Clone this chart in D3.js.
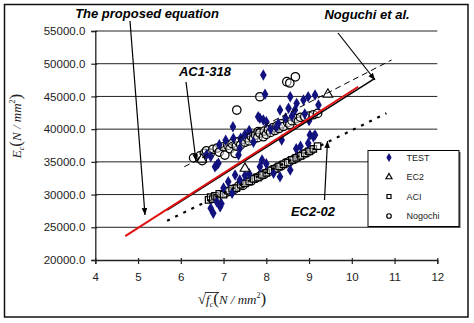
<!DOCTYPE html>
<html><head><meta charset="utf-8">
<script src="https://cdn.jsdelivr.net/npm/d3@7"></script>
<style>body{margin:0;background:#fff}svg{display:block}</style>
</head><body>
<svg id="c" width="474" height="323"></svg>
<script>
// ---- data ----
const xTicks = [4,5,6,7,8,9,10,11,12];
const yTicks = [20000,25000,30000,35000,40000,45000,50000,55000];
const testPts = [
 [6.8,34250],[6.88,34800],[6.84,34510],[6.6,36100],[6.7,35800],[6.9,37600],[7.05,38300],
 [7.22,40370],[7.23,38590],[7.38,37060],[7.4,38600],[7.5,39200],[7.6,39800],[7.7,38000],
 [7.85,41650],[7.81,41900],[7.93,41390],[8.0,41130],[8.1,40000],[8.28,40880],[8.24,40370],
 [8.32,42920],[8.45,41700],[8.52,43180],[8.56,44950],[8.6,42000],[8.67,42920],[8.71,43940],
 [8.87,44450],[8.9,42300],[8.98,44950],[9.0,41300],[9.14,45210],[9.22,43690],
 [7.93,48270],[7.97,45320],
 [6.76,27130],[6.92,28140],[6.84,28900],[6.7,27900],[6.95,28600],[7.0,31000],[7.2,30200],
 [7.11,31960],[7.27,32980],[7.38,32220],[7.35,36040],[7.5,32900],[7.6,33200],[7.85,34250],
 [7.9,35300],[8.0,34700],[8.17,33240],[8.32,32730],[8.56,33750],[8.36,38330],[8.7,37000],
 [8.8,37400],[8.98,37830],[9.1,38840],[9.02,39110],[9.14,39110]
];
const ec2Pts = [[6.49,35380],[7.5,34000],[9.44,45320]];
const aciPts = [
 [6.65,29200],[6.7,29600],[6.75,29300],[6.8,29800],[6.85,29500],[6.9,30100],[7.0,30000],
 [7.1,30600],[7.2,30900],[7.3,31000],[7.4,31500],[7.5,31700],[7.6,32000],[7.7,32400],
 [7.8,32600],[7.9,33000],[8.0,33300],[8.1,33700],[8.2,33900],[8.3,34300],[8.4,34600],
 [8.5,34900],[8.6,35300],[8.7,35600],[8.8,35900],[8.9,36300],[9.0,36600],[9.1,37000],[9.2,37400]
];
const nogPts = [
 [6.3,35600],[6.45,35900],[6.5,35200],[6.55,36300],[6.6,36700],[6.69,36300],[6.75,36900],
 [6.85,37100],[6.9,36500],[7.0,37300],[7.03,36040],[7.1,37500],[7.15,37000],[7.2,37800],
 [7.27,36300],[7.3,37400],[7.35,38100],[7.4,37600],[7.45,38400],[7.5,38000],[7.55,38700],
 [7.6,38200],[7.65,38900],[7.7,38500],[7.75,39100],[7.81,39610],[7.8,38700],[7.85,39400],
 [7.93,38840],[7.95,39700],[8.0,39200],[8.05,39900],[8.1,39500],[8.15,40200],[8.2,39800],
 [8.25,40500],[8.3,40100],[8.35,40800],[8.4,40400],[8.5,41000],[8.55,40700],[8.6,41300],
 [8.7,41600],[8.75,41200],[8.8,41800],[8.9,41900],[9.0,42000],[9.1,42200],[9.2,42400],
 [7.31,42920],[7.85,44950],[8.48,47250],[8.55,47050],[8.68,48000],
 [7.05,30300],[7.15,30500],[7.25,30800],[7.35,31300],[7.45,31400],[7.55,31900],[7.65,32100],
 [7.75,32500],[7.85,32800],[7.95,33100],[8.05,33500],[8.15,33800],[8.25,34100],[8.35,34400],
 [8.45,34800],[8.55,35100],[8.65,35400],[8.75,35800],[8.85,36100],[8.95,36400],[9.05,36800]
];
const proposedLine = [[4.7,23650],[10.15,46480]];
const noguchiLine = [[5.68,27630],[10.54,47770]];
const aciLine = [[6.08,34250],[10.93,50570]];
const ec2Line = [[5.68,25990],[10.81,42420]];
const legendItems = ["TEST","EC2","ACI","Nogochi"];

// ---- drawing ----
const svg = d3.select("#c");
const x = d3.scaleLinear().domain([4,12]).range([95.3,437.3]);
const y = d3.scaleLinear().domain([20000,55000]).range([260,31]);

svg.append("rect").attr("x",4.5).attr("y",4.5).attr("width",463.5).attr("height",312.5)
  .attr("fill","#fff").attr("stroke","#111").attr("stroke-width",1.5);

const defs = svg.append("defs");
defs.append("marker").attr("id","ah").attr("viewBox","0 0 10 10").attr("refX",10).attr("refY",5)
  .attr("markerWidth",7).attr("markerHeight",7).attr("orient","auto-start-reverse")
  .attr("markerUnits","userSpaceOnUse")
  .append("path").attr("d","M0,1L10,5L0,9Z").attr("fill","#000");

// gridlines
svg.append("g").selectAll("line").data(yTicks.filter(d=>d>20000)).join("line")
  .attr("x1",x(4)).attr("x2",x(12)).attr("y1",d=>y(d)).attr("y2",d=>y(d))
  .attr("stroke","#222").attr("stroke-width",1);

// axes
const ya = svg.append("g").attr("transform",`translate(${x(4)},0)`)
  .call(d3.axisLeft(y).tickValues(yTicks).tickFormat(d=>d.toFixed(1)).tickSize(4).tickPadding(6));
const xa = svg.append("g").attr("transform",`translate(0,${y(20000)})`)
  .call(d3.axisBottom(x).tickValues(xTicks).tickFormat(d3.format("d")).tickSize(4).tickPadding(9));
[ya,xa].forEach(a=>{
  a.select(".domain").attr("stroke","#222").attr("stroke-width",1.3);
  a.selectAll(".tick line").attr("stroke","#222").attr("stroke-width",1.2);
  a.selectAll("text").attr("font-family","Liberation Sans, Arial, sans-serif")
   .attr("font-size",11.5).attr("fill","#222");
});
xa.selectAll(".tick line").attr("y1",-2);
ya.selectAll(".tick line").attr("x2",-4).attr("x1",2);

// points
const navy = "#12127e";
const diamond = d3.symbol().type(d3.symbolDiamond).size(38);
const pts = svg.append("g");
pts.selectAll("path.n").data(nogPts).join("path").attr("class","n")
  .attr("d",d3.symbol().type(d3.symbolCircle).size(56)())
  .attr("transform",d=>`translate(${x(d[0])},${y(d[1])})`)
  .attr("fill","#fff").attr("fill-opacity",0.5).attr("stroke","#000").attr("stroke-width",1.25);
pts.selectAll("path.a").data(aciPts).join("path").attr("class","a")
  .attr("d",d3.symbol().type(d3.symbolSquare).size(42)())
  .attr("transform",d=>`translate(${x(d[0])},${y(d[1])})`)
  .attr("fill","#fff").attr("fill-opacity",0.5).attr("stroke","#000").attr("stroke-width",1.25);
pts.selectAll("path.t").data(testPts).join("path").attr("class","t")
  .attr("d",diamond()).attr("transform",d=>`translate(${x(d[0])},${y(d[1])})`)
  .attr("fill",navy);
pts.selectAll("path.e").data(ec2Pts).join("path").attr("class","e")
  .attr("d",d3.symbol().type(d3.symbolTriangle).size(40)())
  .attr("transform",d=>`translate(${x(d[0])},${y(d[1])})`)
  .attr("fill","#fff").attr("stroke","#000").attr("stroke-width",1.1);

// lines
const lg = d3.line().x(d=>x(d[0])).y(d=>y(d[1]));
svg.append("path").attr("d",lg(aciLine)).attr("fill","none").attr("stroke","#000")
  .attr("stroke-width",1).attr("stroke-dasharray","6,4");
svg.append("path").attr("d",lg(ec2Line)).attr("fill","none").attr("stroke","#000")
  .attr("stroke-width",2.2).attr("stroke-dasharray","3,6");
svg.append("path").attr("d",lg(noguchiLine)).attr("fill","none").attr("stroke","#000")
  .attr("stroke-width",1.5);
svg.append("path").attr("d",lg(proposedLine)).attr("fill","none").attr("stroke","#e01010")
  .attr("stroke-width",2);

// annotations
const ann = [
 {t:"The proposed equation", tx:147, ty:18, a:[130,21,145,215]},
 {t:"AC1-318", tx:205, ty:76, a:[186,82,196,161]},
 {t:"Noguchi et al.", tx:367, ty:19, a:[338,33,375,80]},
 {t:"EC2-02", tx:313, ty:216, a:[324.5,200,327.5,141]}
];
ann.forEach(d=>{
  svg.append("text").attr("x",d.tx).attr("y",d.ty).attr("text-anchor","middle")
    .attr("font-family","Liberation Sans, Arial, sans-serif").attr("font-weight","bold")
    .attr("font-style","italic").attr("font-size",13).attr("fill","#000").text(d.t);
  svg.append("line").attr("x1",d.a[0]).attr("y1",d.a[1]).attr("x2",d.a[2]).attr("y2",d.a[3])
    .attr("stroke","#000").attr("stroke-width",1.2).attr("marker-end","url(#ah)");
});

// legend
const L = svg.append("g").attr("transform","translate(368,150.5)");
L.append("rect").attr("x",1.5).attr("y",1.5).attr("width",91).attr("height",76).attr("fill","#555");
L.append("rect").attr("width",91).attr("height",76).attr("fill","#fff").attr("stroke","#000").attr("stroke-width",1);
const sym = [
  g=>g.append("path").attr("d",d3.symbol().type(d3.symbolDiamond).size(24)()).attr("fill",navy),
  g=>g.append("path").attr("d",d3.symbol().type(d3.symbolTriangle).size(16)()).attr("fill","none").attr("stroke","#000").attr("stroke-width",1.2),
  g=>g.append("path").attr("d",d3.symbol().type(d3.symbolSquare).size(16)()).attr("fill","none").attr("stroke","#000").attr("stroke-width",1.2),
  g=>g.append("path").attr("d",d3.symbol().type(d3.symbolCircle).size(16)()).attr("fill","none").attr("stroke","#000").attr("stroke-width",1.2)
];
legendItems.forEach((t,i)=>{
  const g = L.append("g").attr("transform",`translate(0,${7+i*19.5})`);
  sym[i](g.append("g").attr("transform","translate(21,0)"));
  g.append("text").attr("x",38.5).attr("y",3.3).attr("font-family","Liberation Sans, Arial, sans-serif")
    .attr("font-size",9).attr("fill","#222").text(t);
});

// axis titles
const serif = "Liberation Serif, Times New Roman, serif";
const yl = svg.append("text").attr("transform","translate(21,126) rotate(-90)").attr("text-anchor","middle")
  .attr("font-family",serif).attr("font-style","italic").attr("font-size",13).attr("fill","#222");
yl.append("tspan").text("E");
yl.append("tspan").attr("font-size",8).attr("dy",3).text("c");
yl.append("tspan").attr("dy",-3).attr("font-style","normal").attr("font-size",17).text("(");
yl.append("tspan").text("N / mm");
yl.append("tspan").attr("font-size",8).attr("dy",-6).attr("font-style","normal").text("2");
yl.append("tspan").attr("dy",6).attr("font-style","normal").attr("font-size",17).text(")");

const xl = svg.append("text").attr("x",232).attr("y",304).attr("text-anchor","middle")
  .attr("font-family",serif).attr("font-style","italic").attr("font-size",13).attr("fill","#222");
xl.append("tspan").attr("font-style","normal").attr("font-size",15).text("√");
xl.append("tspan").text("f");
xl.append("tspan").attr("font-size",8).attr("dy",3).text("c");
xl.append("tspan").attr("dy",-3).attr("font-style","normal").attr("font-size",17).text("(");
xl.append("tspan").text("N / mm");
xl.append("tspan").attr("font-size",8).attr("dy",-6).attr("font-style","normal").text("2");
xl.append("tspan").attr("dy",6).attr("font-style","normal").attr("font-size",17).text(")");
// overline of the radical
const sq = xl.node().getExtentOfChar(0);
svg.append("line").attr("x1",sq.x+sq.width-1).attr("x2",sq.x+sq.width+13)
  .attr("y1",sq.y+1.5).attr("y2",sq.y+1.5).attr("stroke","#222").attr("stroke-width",0.9);
</script>
</body></html>
